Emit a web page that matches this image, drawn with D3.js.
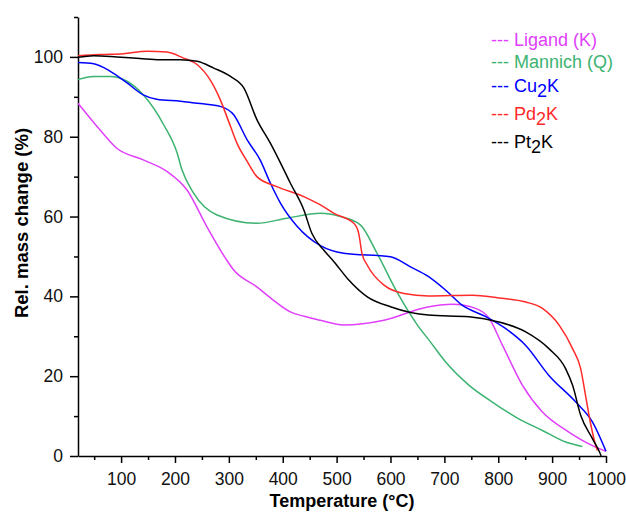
<!DOCTYPE html>
<html>
<head>
<meta charset="utf-8">
<script src="https://cdn.jsdelivr.net/npm/d3@7"></script>
<style>
    body { margin: 0; background: #fff; }
    text { font-family: "Liberation Sans", Arial, sans-serif; }
</style>
</head>
<body>
<svg id="chart" width="626" height="512"></svg>
<script>
// values: [temperature °C, rel. mass %]
const ligand = [[20,88.4],[61,81.7],[92,77.1],[141,74.2],[185,71.3],[222,66.7],[259,57.5],[294,49.5],[309,46.6],[352,42.4],[383,39.0],[414,36.1],[440,35.0],[470,34.0],[513,32.8],[588,34.0],[665,37.2],[715,38.0],[758,37.0],[783,34.5],[808,27.7],[845,17.7],[882,11.0],[931,6.0],[975,2.6],[1000,1.2]];
const mannich = [[20,94.3],[49,95.1],[80,95.1],[111,93.9],[141,90.5],[179,83.0],[204,75.9],[213,71.7],[234,66.0],[278,60.4],[352,58.3],[408,59.6],[470,60.8],[507,60.0],[544,57.9],[575,50.8],[612,41.1],[650,32.8],[674,28.6],[702,23.6],[746,17.7],[789,13.5],[838,9.3],[882,6.4],[925,3.5],[956,2.4]];
const cu2k = [[20,98.6],[49,98.3],[80,96.4],[111,93.5],[141,90.5],[166,89.4],[210,88.9],[247,88.3],[284,87.6],[309,85.5],[334,79.2],[358,74.2],[377,68.4],[396,63.3],[427,57.5],[470,52.7],[513,50.8],[600,49.9],[637,47.4],[670,45.0],[702,41.6],[733,37.8],[777,34.9],[814,31.9],[851,27.7],[894,20.2],[944,13.5],[975,8.5],[1000,1.2]];
const pd2k = [[20,100.3],[61,100.6],[104,100.8],[148,101.4],[185,101.2],[216,99.7],[241,98.1],[265,94.3],[284,89.3],[303,82.6],[315,78.4],[334,73.8],[352,70.0],[389,67.5],[439,65.0],[470,62.9],[495,60.8],[532,58.3],[541,55.8],[547,50.8],[557,47.8],[588,42.8],[625,40.7],[670,40.1],[752,40.3],[801,39.6],[851,38.6],[882,37.0],[913,32.8],[938,26.9],[953,21.9],[962,15.2],[972,7.7],[981,2.6],[984,1.4]];
const pt2k = [[20,99.9],[49,100.3],[92,100.0],[135,99.6],[172,99.3],[210,99.3],[241,98.9],[272,97.2],[303,95.1],[328,92.2],[352,84.3],[377,78.4],[396,73.4],[414,68.4],[439,61.7],[454,55.8],[476,51.6],[495,48.7],[520,44.5],[557,39.9],[600,37.4],[670,35.3],[746,34.9],[801,33.6],[851,31.1],[894,26.9],[925,21.9],[938,17.7],[953,10.2],[975,4.3],[988,1.0],[991,0]];

const seriesNames = ["Ligand (K)", "Mannich (Q)", "Cu2K", "Pd2K", "Pt2K"];
const seriesData = [ligand, mannich, cu2k, pd2k, pt2k];
const seriesColors = ["#e040fb", "#3cb371", "#0000ff", "#ff2a2a", "#000000"];

const xMajorTicks = [100, 200, 300, 400, 500, 600, 700, 800, 900, 1000];
const yMajorTicks = [0, 20, 40, 60, 80, 100];

const MARGIN = {top: 17, right: 20, bottom: 56, left: 78};

const svg = d3.select("#chart");
const width = +svg.attr("width");
const height = +svg.attr("height");

const x = d3.scaleLinear()
    .domain([20, 1000])
    .range([MARGIN.left, width - MARGIN.right]);
const y = d3.scaleLinear()
    .domain([0, 110])
    .range([height - MARGIN.bottom, MARGIN.top]);

// minor ticks first, then labelled ticks on top
svg.append("g")
    .attr("transform", `translate(0, ${y(0)})`)
    .call(d3.axisBottom(x).tickValues(d3.range(50, 1000, 100)).tickSize(4).tickFormat(""))
    .call(g => g.select(".domain").remove());
svg.append("g")
    .attr("transform", `translate(${x(20)}, 0)`)
    .call(d3.axisLeft(y).tickValues(d3.range(10, 111, 20)).tickSize(4).tickFormat(""))
    .call(g => g.select(".domain").remove());

const xAxis = svg.append("g")
    .attr("transform", `translate(0, ${y(0)})`)
    .call(d3.axisBottom(x).tickValues(xMajorTicks).tickFormat(d3.format("d"))
        .tickSize(7).tickSizeOuter(0).tickPadding(10));
const yAxis = svg.append("g")
    .attr("transform", `translate(${x(20)}, 0)`)
    .call(d3.axisLeft(y).tickValues(yMajorTicks).tickFormat(d3.format("d"))
        .tickSize(8).tickSizeOuter(0).tickPadding(7));

svg.selectAll(".tick line, .domain").attr("stroke", "#000").attr("stroke-width", 1.5);
[xAxis, yAxis].forEach(a => a.selectAll("text")
    .attr("fill", "#111")
    .style("font-size", "17.5px")
    .style("font-family", "'Liberation Sans', Arial, sans-serif"));

svg.append("text")
    .attr("x", (x(20) + x(1000)) / 2)
    .attr("y", 507)
    .attr("text-anchor", "middle")
    .style("font-size", "18px")
    .style("font-weight", "bold")
    .text("Temperature (°C)");

svg.append("text")
    .attr("transform", `translate(28, 223) rotate(-90)`)
    .attr("text-anchor", "middle")
    .style("font-size", "18.5px")
    .style("font-weight", "bold")
    .text("Rel. mass change (%)");

const line = d3.line()
    .x(d => x(d[0]))
    .y(d => y(d[1]))
    .curve(d3.curveMonotoneX);

svg.append("g")
    .selectAll("path")
    .data(seriesData)
    .join("path")
    .attr("fill", "none")
    .attr("stroke", (d, i) => seriesColors[i])
    .attr("stroke-width", 1.5)
    .attr("d", line);

// legend, "2" set as subscript in the complex names
const legendY = [46, 68, 92, 120, 148];
const legend = svg.append("g");
seriesNames.forEach((name, i) => {
    const t = legend.append("text")
        .attr("x", 491)
        .attr("y", legendY[i])
        .attr("fill", seriesColors[i])
        .style("font-size", "18px");
    t.append("tspan").text("--- ");
    const m = name.match(/^(\D+)2(\D+)$/);
    if (m) {
        t.append("tspan").text(m[1]);
        t.append("tspan").attr("dy", 5).text("2");
        t.append("tspan").attr("dy", -5).text(m[2]);
    } else {
        t.append("tspan").text(name);
    }
});
</script>
</body>
</html>
